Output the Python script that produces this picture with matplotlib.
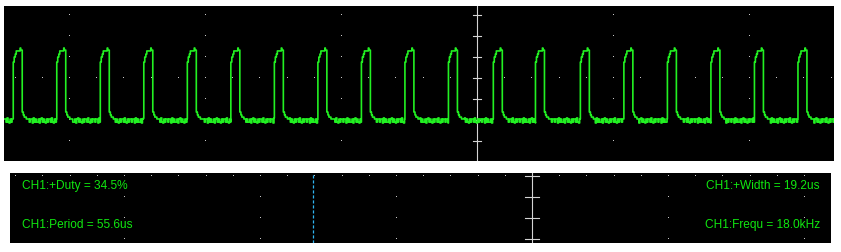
import numpy as np
import matplotlib.pyplot as plt

# screen units are divisions (x: 136 px/div, y: 21 px/div), 0 at the centre axis
rise_times = [-3.41, -3.09, -2.77, -2.45, -2.13, -1.81, -1.49, -1.17, -0.85, -0.53,
              -0.21, 0.12, 0.43, 0.76, 1.08, 1.40, 1.72, 2.04, 2.36]

# one pulse, offsets from the rising edge (steps-post)
pulse_dt = [0.0, 0.007, 0.015, 0.022, 0.051, 0.055, 0.066, 0.074, 0.081, 0.096]
pulse_v = [0.76, 1.00, 1.14, 1.29, 1.43, 1.33, -1.62, -1.76, -1.86, -1.95]

# noise on the low level
low_noise = [-1.95, -2.10, -1.95, -1.95, -2.14, -1.90, -2.10, -1.95, -2.10, -2.10,
             -1.95, -2.14, -1.95, -1.90, -2.10, -1.95, -2.10, -2.14, -1.95, -2.10,
             -1.95, -1.95, -2.10, -1.90, -2.10, -2.14, -1.95, -2.10, -1.95]
noise_step = 0.0074
noise_start = 0.11

measures_left = ['CH1:+Duty = 34.5%', 'CH1:Period = 55.6us']
measures_right = ['CH1:+Width = 19.2us', 'CH1:Frequ = 18.0kHz']

TRACE = '#22F022'
TEXT = '#10E810'
GRID = '#C8C8C8'
AXIS = '#D4D4D4'

W, H = 841, 253
fig = plt.figure(figsize=(W / 100, H / 100), dpi=100)
fig.patch.set_facecolor('white')


def px_axes(x0, y0, x1, y1):
    return fig.add_axes([x0 / W, 1 - y1 / H, (x1 - x0) / W, (y1 - y0) / H])


def clean(ax):
    ax.set_facecolor('black')
    ax.set_xticks([])
    ax.set_yticks([])
    for s in ax.spines.values():
        s.set_visible(False)


# ---- top panel: waveform ----
ax = px_axes(4, 7, 834, 162)
clean(ax)
xlo, xhi = -3.478, 2.625
ylo, yhi = -3.95, 3.43
ax.set_xlim(xlo, xhi)
ax.set_ylim(ylo, yhi)

# grid dots
for cx in np.arange(-3, 3):
    if cx == 0:
        continue
    ys = np.arange(-3, 4)
    ax.plot(np.full(len(ys), cx), ys, ',', color=GRID)
rx = np.arange(-17, 14) * 0.2
ax.plot(rx, np.zeros(len(rx)), ',', color=GRID)

# centre axis with ticks
ax.axvline(0, color=AXIS, lw=0.8, zorder=1)
for ty in range(-3, 4):
    ax.plot([-0.03, 0.03], [ty, ty], color=AXIS, lw=0.8, zorder=1)

# build trace
t, v = [], []
nn = len(low_noise)
k = 0
x = xlo
while x < rise_times[0]:
    t.append(x)
    v.append(low_noise[(k + 20) % nn])
    x += noise_step
    k += 1
for i, r in enumerate(rise_times):
    for dt, lv in zip(pulse_dt, pulse_v):
        t.append(r + dt)
        v.append(lv)
    nxt = rise_times[i + 1] if i + 1 < len(rise_times) else xhi + 0.01
    x = r + noise_start
    k = 0
    while x < nxt:
        t.append(x)
        v.append(low_noise[(k + 7 * i) % nn])
        x += noise_step
        k += 1
ax.plot(t, v, color=TRACE, lw=1.2, drawstyle='steps-post', zorder=3)

# ---- bottom panel: measurements ----
bx = px_axes(10, 174, 831, 244)
clean(bx)
bx.set_xlim(-3.838, 2.199)
bx.set_ylim(0, 3.33)

rx = np.arange(-19, 11) * 0.2
bx.plot(rx, np.full(len(rx), 3.19), ',', color=GRID)
for cx in [-3, -2, -1, 1, 2]:
    ys = np.array([0.19, 1.19, 2.19])
    bx.plot(np.full(len(ys), cx), ys, ',', color=GRID)
bx.axvline(0, color=AXIS, lw=0.8)
for ty in [0.19, 1.19, 2.19, 3.19]:
    bx.plot([-0.05, 0.05], [ty, ty], color=AXIS, lw=0.8)
bx.axvline(-1.61, color='#2FB4F0', lw=0.9, ls=(0, (2.5, 1.5)))

font = dict(family='Liberation Sans', fontsize=8.6, color=TEXT)
for txt, yy in zip(measures_left, [0.829, 0.271]):
    bx.text(0.0146, yy, txt, transform=bx.transAxes, ha='left', va='center', **font)
for txt, yy in zip(measures_right, [0.829, 0.271]):
    bx.text(0.9866, yy, txt, transform=bx.transAxes, ha='right', va='center', **font)

fig.savefig('out.png', dpi=100, facecolor='white')
